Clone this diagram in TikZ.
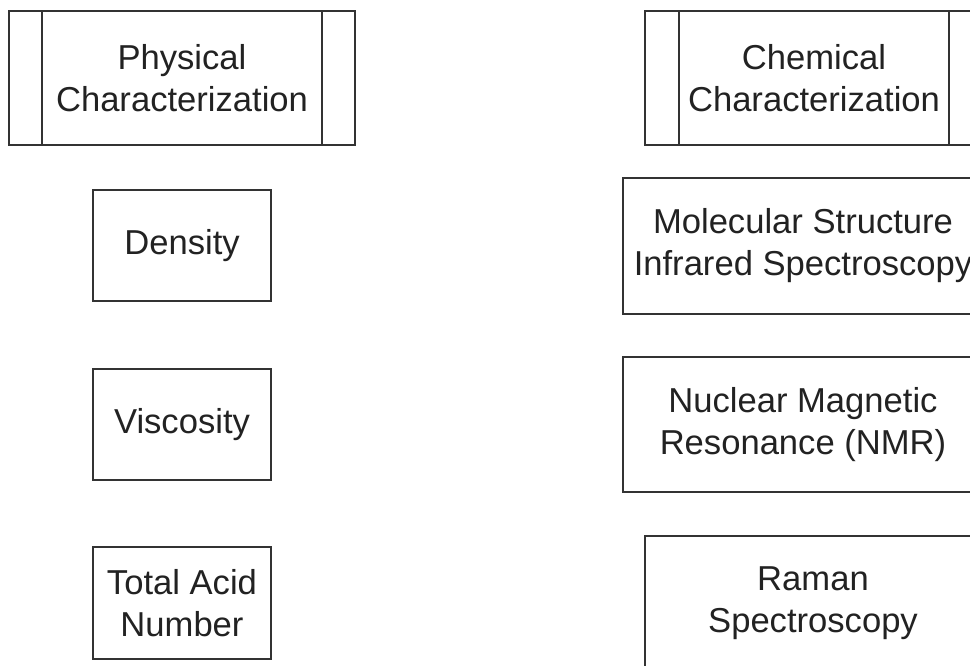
\documentclass[tikz,border=0pt]{standalone}
\usepackage{fontspec}
\setmainfont{Liberation Sans}
\definecolor{linec}{HTML}{333333}
\definecolor{textc}{HTML}{222222}
\begin{document}
\begin{tikzpicture}[x=1pt,y=-1pt,
  box/.style={draw=linec,line width=2pt,fill=white,text=textc,align=center,
    font=\fontsize{34.6}{42}\selectfont,inner sep=0pt},
  bar/.style={draw=linec,line width=2pt}]
\useasboundingbox (0,0) rectangle (970,665);
\clip (0,0) rectangle (970,665);
\fill[white] (0,0) rectangle (970,665);
% left column
\node[box,minimum width=346pt,minimum height=134pt] (phys) at (182,78) {Physical\\Characterization};
\draw[bar] ([xshift=34pt]phys.north west) -- ([xshift=34pt]phys.south west);
\draw[bar] ([xshift=-34pt]phys.north east) -- ([xshift=-34pt]phys.south east);
\node[box,minimum width=178pt,minimum height=111pt] (dens) at (182,245.5) {Density};
\node[box,minimum width=178pt,minimum height=111pt] (visc) at (182,424.5) {Viscosity};
\node[box,minimum width=178pt,minimum height=112pt] (tan) at (182,603) {Total Acid\\Number};
% right column
\node[box,minimum width=338pt,minimum height=134pt] (chem) at (814,78) {Chemical\\Characterization};
\draw[bar] ([xshift=35pt]chem.north west) -- ([xshift=35pt]chem.south west);
\draw[bar] ([xshift=-35pt]chem.north east) -- ([xshift=-35pt]chem.south east);
\node[box,minimum width=360pt,minimum height=136pt] (mol) at (803,246) {Molecular Structure\\Infrared Spectroscopy};
\node[box,minimum width=360pt,minimum height=135pt] (nmr) at (803,424.5) {Nuclear Magnetic\\Resonance (NMR)};
\node[box,minimum width=336pt,minimum height=134pt] (raman) at (813,603) {Raman\\Spectroscopy};
\end{tikzpicture}
\end{document}
